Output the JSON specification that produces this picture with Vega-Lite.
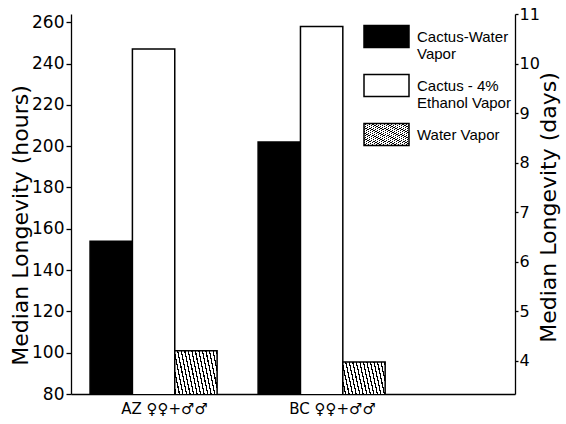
{
  "$schema": "https://vega.github.io/schema/vega-lite/v6.json",
  "width": 444,
  "height": 380,
  "autosize": {"type": "none"},
  "padding": {"left": 71, "top": 14, "right": 51, "bottom": 30},
  "background": "white",
  "config": {
    "view": {"stroke": null},
    "axis": {
      "domainColor": "black",
      "tickColor": "black",
      "labelColor": "black",
      "titleColor": "black",
      "titleFontWeight": "normal",
      "grid": false,
      "labelFont": "DejaVu Sans",
      "titleFont": "DejaVu Sans",
      "domainWidth": 1.3,
      "tickWidth": 1.3
    }
  },
  "data": {
    "values": [
      {"group": "AZ ♀♀+♂♂", "treatment": "Cactus-Water Vapor", "hours": 154},
      {"group": "AZ ♀♀+♂♂", "treatment": "Cactus - 4% Ethanol Vapor", "hours": 247},
      {"group": "AZ ♀♀+♂♂", "treatment": "Water Vapor", "hours": 101},
      {"group": "BC ♀♀+♂♂", "treatment": "Cactus-Water Vapor", "hours": 202},
      {"group": "BC ♀♀+♂♂", "treatment": "Cactus - 4% Ethanol Vapor", "hours": 258},
      {"group": "BC ♀♀+♂♂", "treatment": "Water Vapor", "hours": 95.5}
    ]
  },
  "layer": [
    {
      "mark": {"type": "bar", "stroke": "black", "strokeWidth": 1.5, "clip": true},
      "encoding": {
        "x": {
          "field": "group",
          "type": "nominal",
          "scale": {"paddingInner": 0.244, "paddingOuter": 0.443, "align": 0.128},
          "axis": {"title": null, "ticks": false, "labelAngle": 0, "labelFontSize": 15, "labelPadding": 7, "labelOffset": 11}
        },
        "xOffset": {
          "field": "treatment",
          "type": "nominal",
          "scale": {"domain": ["Cactus-Water Vapor", "Cactus - 4% Ethanol Vapor", "Water Vapor"], "paddingInner": 0, "paddingOuter": 0}
        },
        "y": {
          "field": "hours",
          "type": "quantitative",
          "scale": {"domain": [80, 264], "zero": false, "nice": false},
          "axis": {
            "orient": "left",
            "values": [80, 100, 120, 140, 160, 180, 200, 220, 240, 260],
            "title": "Median Longevity (hours)",
            "titleFontSize": 22,
            "titleAngle": 270,
            "titleX": -51,
            "titleY": 211,
            "titleAlign": "center",
            "titleBaseline": "middle",
            "labelFontSize": 17,
            "tickSize": 5,
            "labelPadding": 2
          }
        },
        "color": {
          "field": "treatment",
          "type": "nominal",
          "scale": {
            "domain": ["Cactus-Water Vapor", "Cactus - 4% Ethanol Vapor", "Water Vapor"],
            "range": [
              "black",
              "white",
              {"expr": "{gradient: 'linear', x1: 0, y1: 1, x2: 1, y2: 0, stops: [{offset: 0, color: 'white'}, {offset: 0.0271, color: 'white'}, {offset: 0.0271, color: 'black'}, {offset: 0.0417, color: 'black'}, {offset: 0.0417, color: 'white'}, {offset: 0.0688, color: 'white'}, {offset: 0.0688, color: 'black'}, {offset: 0.0833, color: 'black'}, {offset: 0.0833, color: 'white'}, {offset: 0.1104, color: 'white'}, {offset: 0.1104, color: 'black'}, {offset: 0.125, color: 'black'}, {offset: 0.125, color: 'white'}, {offset: 0.1521, color: 'white'}, {offset: 0.1521, color: 'black'}, {offset: 0.1667, color: 'black'}, {offset: 0.1667, color: 'white'}, {offset: 0.1938, color: 'white'}, {offset: 0.1938, color: 'black'}, {offset: 0.2083, color: 'black'}, {offset: 0.2083, color: 'white'}, {offset: 0.2354, color: 'white'}, {offset: 0.2354, color: 'black'}, {offset: 0.25, color: 'black'}, {offset: 0.25, color: 'white'}, {offset: 0.2771, color: 'white'}, {offset: 0.2771, color: 'black'}, {offset: 0.2917, color: 'black'}, {offset: 0.2917, color: 'white'}, {offset: 0.3188, color: 'white'}, {offset: 0.3188, color: 'black'}, {offset: 0.3333, color: 'black'}, {offset: 0.3333, color: 'white'}, {offset: 0.3604, color: 'white'}, {offset: 0.3604, color: 'black'}, {offset: 0.375, color: 'black'}, {offset: 0.375, color: 'white'}, {offset: 0.4021, color: 'white'}, {offset: 0.4021, color: 'black'}, {offset: 0.4167, color: 'black'}, {offset: 0.4167, color: 'white'}, {offset: 0.4438, color: 'white'}, {offset: 0.4438, color: 'black'}, {offset: 0.4583, color: 'black'}, {offset: 0.4583, color: 'white'}, {offset: 0.4854, color: 'white'}, {offset: 0.4854, color: 'black'}, {offset: 0.5, color: 'black'}, {offset: 0.5, color: 'white'}, {offset: 0.5271, color: 'white'}, {offset: 0.5271, color: 'black'}, {offset: 0.5417, color: 'black'}, {offset: 0.5417, color: 'white'}, {offset: 0.5688, color: 'white'}, {offset: 0.5688, color: 'black'}, {offset: 0.5833, color: 'black'}, {offset: 0.5833, color: 'white'}, {offset: 0.6104, color: 'white'}, {offset: 0.6104, color: 'black'}, {offset: 0.625, color: 'black'}, {offset: 0.625, color: 'white'}, {offset: 0.6521, color: 'white'}, {offset: 0.6521, color: 'black'}, {offset: 0.6667, color: 'black'}, {offset: 0.6667, color: 'white'}, {offset: 0.6938, color: 'white'}, {offset: 0.6938, color: 'black'}, {offset: 0.7083, color: 'black'}, {offset: 0.7083, color: 'white'}, {offset: 0.7354, color: 'white'}, {offset: 0.7354, color: 'black'}, {offset: 0.75, color: 'black'}, {offset: 0.75, color: 'white'}, {offset: 0.7771, color: 'white'}, {offset: 0.7771, color: 'black'}, {offset: 0.7917, color: 'black'}, {offset: 0.7917, color: 'white'}, {offset: 0.8188, color: 'white'}, {offset: 0.8188, color: 'black'}, {offset: 0.8333, color: 'black'}, {offset: 0.8333, color: 'white'}, {offset: 0.8604, color: 'white'}, {offset: 0.8604, color: 'black'}, {offset: 0.875, color: 'black'}, {offset: 0.875, color: 'white'}, {offset: 0.9021, color: 'white'}, {offset: 0.9021, color: 'black'}, {offset: 0.9167, color: 'black'}, {offset: 0.9167, color: 'white'}, {offset: 0.9438, color: 'white'}, {offset: 0.9438, color: 'black'}, {offset: 0.9583, color: 'black'}, {offset: 0.9583, color: 'white'}, {offset: 0.9854, color: 'white'}, {offset: 0.9854, color: 'black'}, {offset: 1, color: 'black'}]}"}
            ]
          },
          "legend": {
            "title": null,
            "orient": "none",
            "legendX": 292,
            "legendY": -1,
            "padding": 0,
            "symbolType": "M-1,-0.49H1V0.49H-1Z",
            "symbolSize": 2025,
            "symbolStrokeColor": "black",
            "symbolStrokeWidth": 1.5,
            "symbolOpacity": 1,
            "labelFont": "Liberation Sans",
            "labelFontSize": 15,
            "labelColor": "black",
            "labelOffset": 7,
            "labelLimit": 200,
            "rowPadding": -11,
            "labelExpr": "datum.label == 'Cactus-Water Vapor' ? ['Cactus-Water', 'Vapor'] : datum.label == 'Cactus - 4% Ethanol Vapor' ? ['Cactus - 4%', 'Ethanol Vapor'] : datum.label"
          }
        }
      }
    },
    {
      "mark": {"type": "point", "opacity": 0, "clip": true},
      "encoding": {
        "y": {
          "field": "hours",
          "type": "quantitative",
          "scale": {"domain": [3.3333, 11], "zero": false, "nice": false},
          "axis": {
            "orient": "right",
            "values": [4, 5, 6, 7, 8, 9, 10, 11],
            "title": "Median Longevity (days)",
            "titleFontSize": 22,
            "titleAngle": 270,
            "titleX": 33,
            "titleY": 193,
            "titleAlign": "center",
            "titleBaseline": "middle",
            "labelFontSize": 16,
            "tickSize": 3,
            "labelPadding": 1
          }
        }
      }
    }
  ],
  "resolve": {"scale": {"y": "independent"}, "axis": {"y": "independent"}}
}
